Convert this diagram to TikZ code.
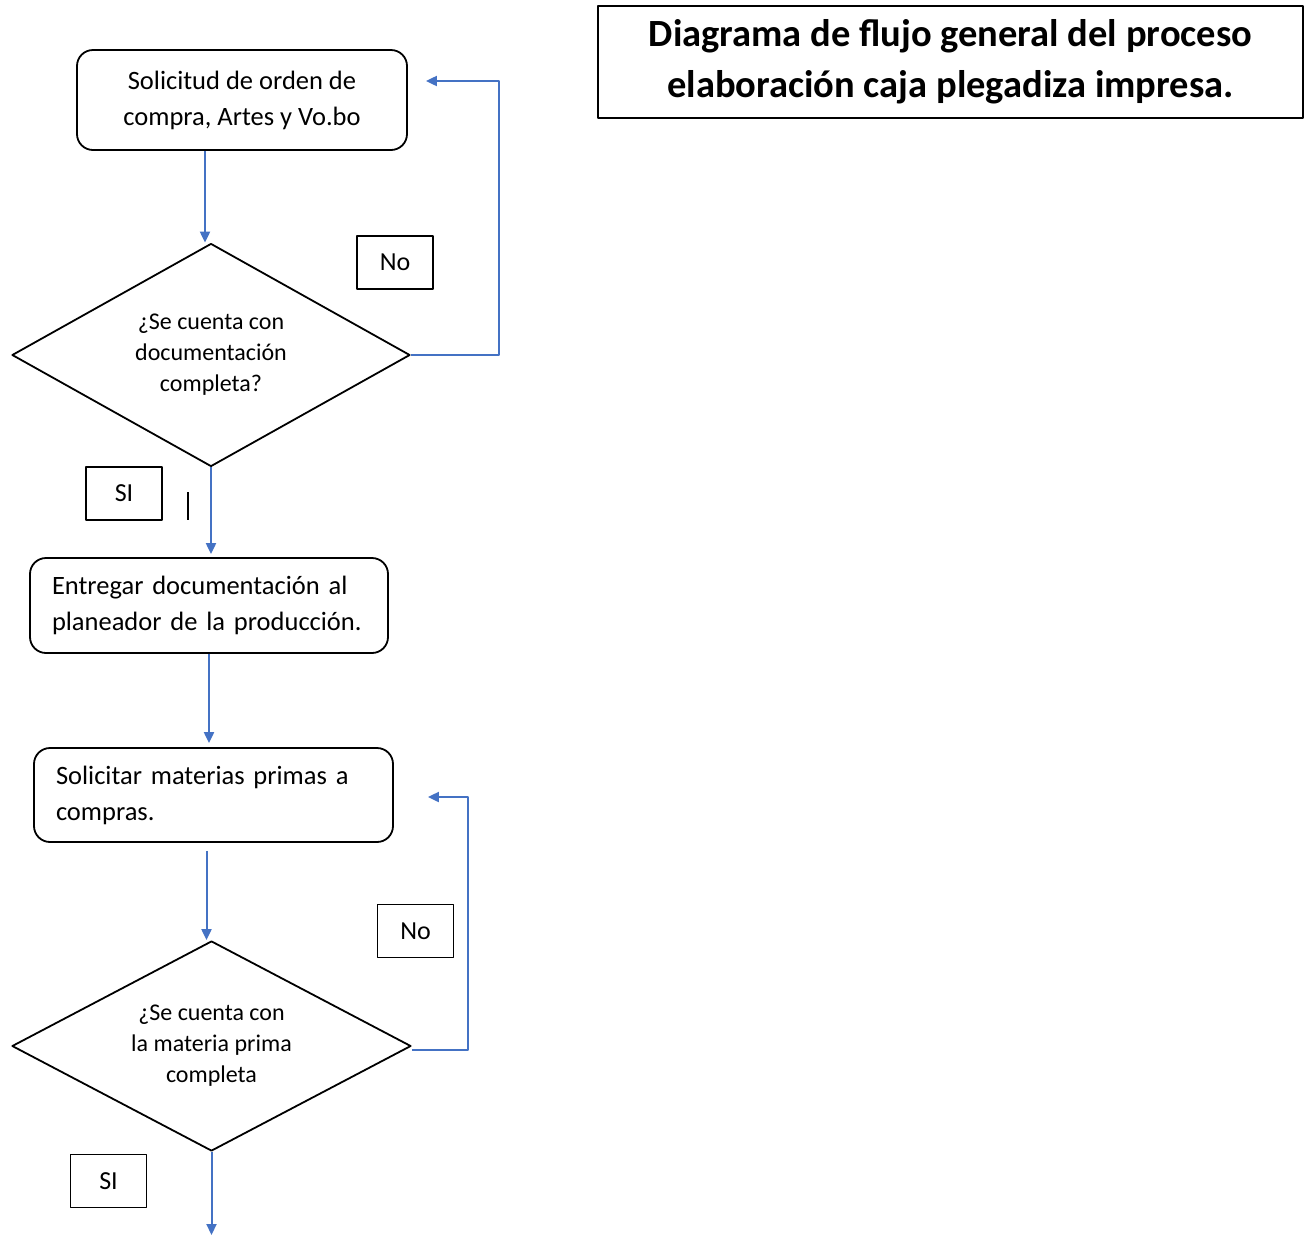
\documentclass[tikz,border=0pt]{standalone}
\usepackage{fontspec}
\setmainfont{Carlito}
\usetikzlibrary{shapes.geometric,arrows.meta}
\definecolor{flowblue}{RGB}{68,114,196}
\tikzset{
  proc/.style={draw,line width=1.8pt,rounded corners=16pt,font=\fontsize{26.5}{36}\selectfont},
  decision/.style={draw,diamond,aspect=1.8,line width=1.8pt,inner sep=0pt,align=center,font=\fontsize{24}{31}\selectfont},
  tag/.style={draw,line width=1.8pt,minimum width=76pt,minimum height=53pt,font=\fontsize{26}{30}\selectfont},
  flow/.style={draw=flowblue,line width=2pt,-{Triangle[length=11pt,width=10pt]}}
}
\begin{document}
\begin{tikzpicture}[x=1pt,y=-1pt,line join=round]
\useasboundingbox (0,0) rectangle (1311,1235);
% title
\node[draw,line width=1.8pt,minimum width=705pt,minimum height=112pt,align=center,font=\fontsize{38.5}{51}\selectfont\bfseries] (titulo) at (950.5,62) {\raisebox{-2.5pt}{Diagrama de flujo general del proceso}\\\raisebox{-2.5pt}{elaboración caja plegadiza impresa.}};
% process steps
\node[proc,minimum width=330pt,minimum height=100pt,align=center] (solicitud) at (242,100) {Solicitud de orden de\\compra, Artes y Vo.bo};
\node[decision,minimum width=398pt,minimum height=223pt] (docs) at (211,355) {¿Se cuenta con\\documentación\\completa?};
\node[proc,text width=314pt,inner xsep=22pt,minimum height=95pt,align=left] (entregar) at (209,605.5) {Entregar documentación al\\planeador de la producción.};
\node[proc,text width=315pt,inner xsep=22pt,minimum height=94pt,align=left] (materias) at (213.5,795) {Solicitar materias primas a\\compras.};
\node[decision,minimum width=399pt,minimum height=210pt] (matdec) at (211.5,1046) {¿Se cuenta con\\la materia prima\\completa};
\coordinate (fin) at (211.5,1235);
% answer tags
\node[tag] (no1) at (395,262.5) {No};
\node[tag] (si1) at (124,493.5) {SI};
\node[tag] (no2) at (415.5,931) {No};
\node[tag] (si2) at (108.5,1181) {SI};
\draw[line width=1.5pt] (188,492) -- (188,520);
% connectors
\draw[flow] ([xshift=-6pt]docs.north |- solicitud.south) -- ([xshift=-6pt]docs.north);
\draw[flow] (docs.east) -- ++(88,0) |- ([xshift=18pt,yshift=19pt]solicitud.east);
\draw[flow] (docs.south) -- ([yshift=3pt]docs.south |- entregar.north);
\draw[flow] (entregar.south) -- ([yshift=4pt]entregar.south |- materias.north);
\draw[flow,shorten <=8pt] ([xshift=-5pt]matdec.north |- materias.south) -- ([xshift=-5pt]matdec.north);
\draw[flow] ([yshift=-4pt]matdec.east) -- ++(56,0) |- ([xshift=34pt,yshift=-2pt]materias.east);
\draw[flow] (matdec.south) -- (fin);
\end{tikzpicture}
\end{document}
